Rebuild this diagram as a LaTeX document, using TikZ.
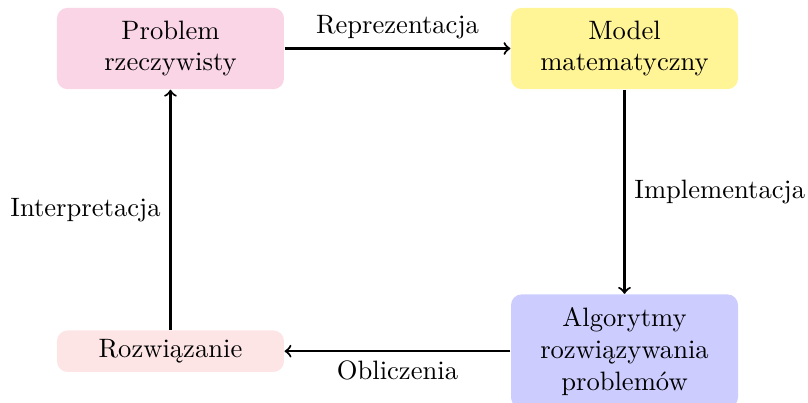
\documentclass[tikz,border=0pt]{standalone}
\usepackage{tikz}
\usetikzlibrary{positioning}
\definecolor{rozowy}{RGB}{249,213,230}
\definecolor{zolty}{RGB}{255,244,150}
\definecolor{niebieski}{RGB}{204,204,255}
\definecolor{jasnyrozowy}{RGB}{253,229,230}

\begin{document}
\begin{tikzpicture}[blok/.style={rounded corners, minimum width=3cm, align=center},
  blokwysoki/.style={blok, inner ysep=4.8pt}]

\useasboundingbox (-2.253,0.641) rectangle (8.425,-4.681);

% bloki
\node[blokwysoki, fill=rozowy] (problem) at (0,0) {Problem\\rzeczywisty};
\node[blokwysoki, fill=zolty] (model) at (6,0) {Model\\matematyczny};
\node[blokwysoki, fill=niebieski] (algorytmy) at (6,-4) {Algorytmy\\rozwiązywania\\problemów};
\node[blok, fill=jasnyrozowy] (rozwiazanie) at (0,-4) {Rozwiązanie};

% strzalki
\draw[->, thick] (problem) -- node[anchor=south]{Reprezentacja} (model);
\draw[->, thick] (model) -- node[anchor=west]{Implementacja} (algorytmy);
\draw[->, thick] (algorytmy) -- node[anchor=north]{Obliczenia} (rozwiazanie);
\draw[->, thick] (rozwiazanie) -- node[anchor=east]{Interpretacja} (problem);

\end{tikzpicture}
\end{document}
